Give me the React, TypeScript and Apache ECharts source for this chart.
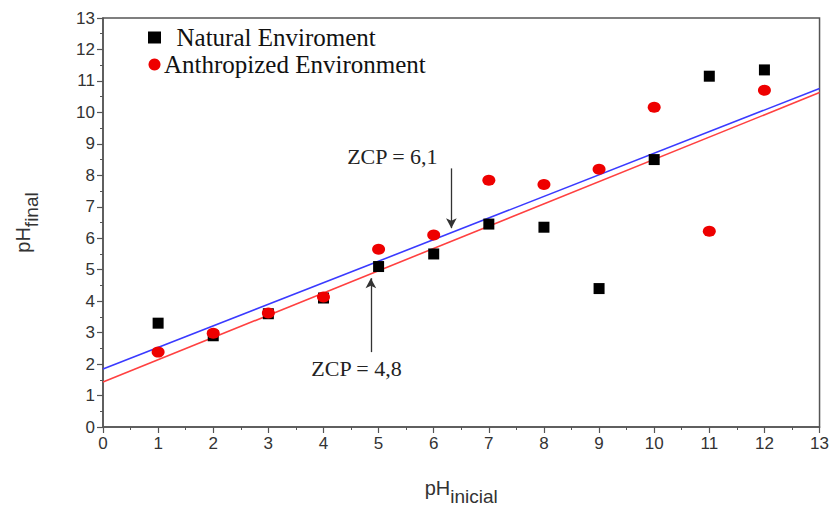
import React, { useEffect, useRef } from "react";
import * as echarts from "echarts";

const phInitial = [1, 2, 3, 4, 5, 6, 7, 8, 9, 10, 11, 12];
const naturalFinal = [3.3, 2.9, 3.6, 4.1, 5.1, 5.5, 6.45, 6.35, 4.4, 8.5, 11.15, 11.35];
const anthropizedFinal = [2.38, 2.98, 3.62, 4.13, 5.65, 6.1, 7.84, 7.71, 8.19, 10.16, 6.22, 10.7];
const fitNatural = [[0, 1.84], [13, 10.76]];
const fitAnthropized = [[0, 1.43], [13, 10.63]];
const annotations = [
  { text: "ZCP = 6,1", at: [5.25, 8.6], arrowFrom: [6.32, 8.22], arrowTo: [6.32, 6.32] },
  { text: "ZCP = 4,8", at: [4.6, 1.87], arrowFrom: [4.86, 2.38], arrowTo: [4.86, 4.73] },
];
const axisTicks = [0, 1, 2, 3, 4, 5, 6, 7, 8, 9, 10, 11, 12, 13];

export default function App() {
  const ref = useRef<HTMLDivElement>(null);
  useEffect(() => {
    if (!ref.current) return;
    const chart = echarts.init(ref.current, undefined, { renderer: "svg" });
    const axisCommon = {
      min: axisTicks[0],
      max: axisTicks[axisTicks.length - 1],
      interval: 1,
      axisLine: { show: true, lineStyle: { color: "#555", width: 1.5 } },
      axisTick: { show: true, length: 6, lineStyle: { color: "#555", width: 1.2 } },
      minorTick: { show: true, splitNumber: 2, length: 3, lineStyle: { color: "#555" } },
      splitLine: { show: false },
      axisLabel: { color: "#333", fontSize: 17, fontFamily: "Liberation Sans, Arial", margin: 8 },
    };
    const nameRich = {
      a: { fontSize: 20, fontFamily: "Liberation Sans, Arial", color: "#333" },
      b: { fontSize: 19, fontFamily: "Liberation Sans, Arial", color: "#333", padding: [18, 0, 0, 0] },
    };
    chart.setOption({
      animation: false,
      backgroundColor: "#fff",
      grid: { left: 103, right: 4, top: 18, bottom: 88, show: true, borderColor: "#555", borderWidth: 1.5 },
      legend: {
        orient: "vertical",
        left: 143,
        top: 20,
        itemGap: 2,
        itemWidth: 13,
        itemHeight: 12,
        data: [
          { name: "Natural Enviroment", icon: "rect" },
          { name: "Anthropized Environment", icon: "circle" },
        ],
        formatter: (n: string) => (n === "Natural Enviroment" ? "  " + n : n),
        textStyle: { fontFamily: "Liberation Serif, Times New Roman", fontSize: 25, lineHeight: 24, color: "#111", padding: [0, 0, 0, -2] },
      },
      xAxis: {
        ...axisCommon,
        type: "value",
        name: "{a|pH}{b|inicial}",
        nameLocation: "middle",
        nameGap: 42,
        nameTextStyle: { rich: nameRich },
      },
      yAxis: {
        ...axisCommon,
        type: "value",
        name: "{a|pH}{b|final}",
        nameLocation: "middle",
        nameGap: 62,
        nameTextStyle: { rich: nameRich },
      },
      series: [
        {
          name: "fitNatural",
          type: "line",
          data: fitNatural,
          showSymbol: false,
          symbol: "none",
          lineStyle: { color: "#3a3aff", width: 1.6 },
          z: 1,
          markLine: {
            silent: true,
            symbol: ["none", "arrow"],
            symbolSize: [8, 10],
            label: { show: false },
            lineStyle: { color: "#333", width: 1.3, type: "solid" },
            data: annotations.map((a) => [{ coord: a.arrowFrom }, { coord: a.arrowTo }]),
          },
          markPoint: {
            symbol: "rect",
            symbolSize: 1,
            itemStyle: { color: "transparent" },
            label: {
              show: true,
              position: "inside",
              color: "#222",
              fontSize: 22,
              fontFamily: "Liberation Serif, Times New Roman",
              formatter: (p: any) => p.name,
            },
            data: annotations.map((a) => ({ name: a.text, coord: a.at })),
          },
        },
        {
          name: "fitAnthropized",
          type: "line",
          data: fitAnthropized,
          showSymbol: false,
          symbol: "none",
          lineStyle: { color: "#ff4040", width: 1.6 },
          z: 1,
        },
        {
          name: "Natural Enviroment",
          type: "scatter",
          symbol: "rect",
          symbolSize: 11,
          itemStyle: { color: "#000", opacity: 1 },
          data: phInitial.map((x, i) => [x, naturalFinal[i]]),
          z: 3,
        },
        {
          name: "Anthropized Environment",
          type: "scatter",
          symbol: "circle",
          symbolSize: [13, 11],
          itemStyle: { color: "#ee0000", opacity: 1 },
          data: phInitial.map((x, i) => [x, anthropizedFinal[i]]),
          z: 4,
        },
      ],
    });
    return () => chart.dispose();
  }, []);
  return <div ref={ref} style={{ width: 832, height: 515, position: "absolute", left: 0, top: 0 }} />;
}
